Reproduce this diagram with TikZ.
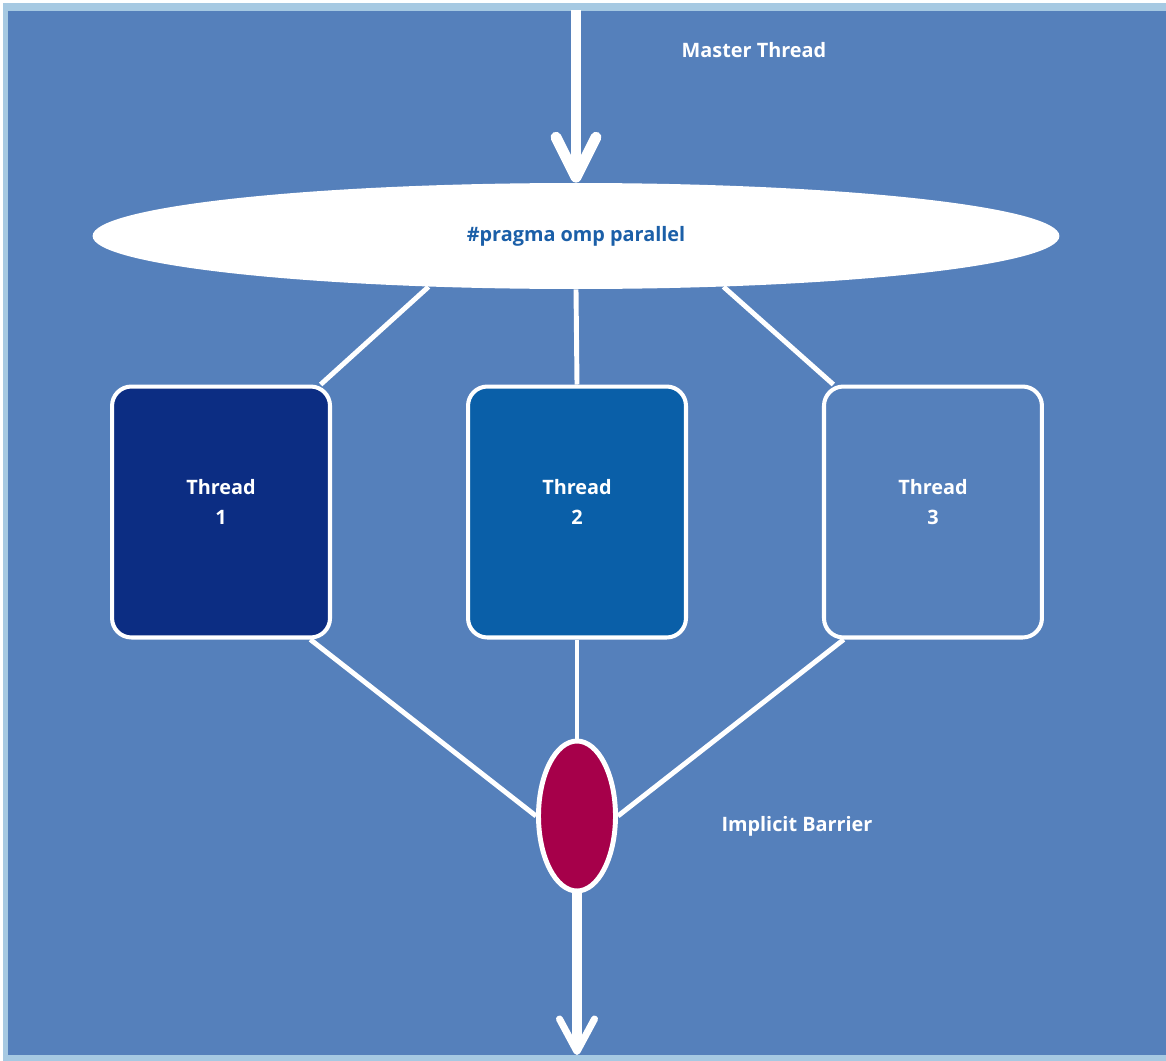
\documentclass[tikz,border=0pt]{standalone}
\usepackage{fontspec}
\setmainfont{Open Sans}
\usetikzlibrary{arrows.meta, positioning, shapes.geometric}
\definecolor{framebd}{HTML}{A6C9E2}
\definecolor{panebg}{HTML}{5580BB}
\definecolor{threadone}{HTML}{0C2D83}
\definecolor{threadtwo}{HTML}{0A5FA8}
\definecolor{barrierred}{HTML}{A6004A}
\definecolor{pragmaink}{HTML}{1B5FA8}
\newcommand{\labelfont}{\fontsize{11.3}{17}\selectfont\bfseries}
\tikzset{
  tbox/.style={draw=white, rounded corners=11pt, line width=2.3pt,
    minimum width=4.36cm, minimum height=5.02cm,
    label={[lbl, align=center, yshift=0.2cm]center:Thread\\#1}},
  link/.style={draw=white, line width=2.8pt},
  flowarrow/.style={-{Straight Barb[length=0.8cm, width=0.8cm, round]}, draw=white, line width=6.2pt},
  outarrow/.style={-{Straight Barb[length=0.65cm, width=0.7cm, round, line width=4pt]}, draw=white, line width=5.8pt},
  lbl/.style={text=white, font=\labelfont}
}
\begin{document}
\begin{tikzpicture}[x=0.02cm, y=-0.02cm]
\useasboundingbox (0,0) rectangle (1166,1061);
\fill[framebd] (3,3) rectangle (1170,1061);
\fill[panebg] (8,11) rectangle (1170,1055);
\node[ellipse, fill=white, minimum width=19.34cm, minimum height=2.12cm, inner sep=0pt,
  text=pragmaink, font=\labelfont] (omp) at (576,236) {\#pragma omp parallel};
\node[tbox=2, fill=threadtwo] (t2) at (577,512) {};
\node[tbox=1, fill=threadone, left=2.68cm of t2] (t1) {};
\node[tbox=3, fill=panebg, right=2.68cm of t2] (t3) {};
\node[ellipse, draw=white, fill=barrierred, line width=2.8pt, minimum width=1.54cm,
  minimum height=3cm, inner sep=0pt] (bar) at (577,816) {};
\coordinate (mtop) at (576,10);
\coordinate (mend) at (577,1055);
\draw[flowarrow] (mtop) -- (omp.north);
\draw[outarrow] (bar.south) -- (mend);
\draw[link] (omp.-161) -- (t1.52);
\draw[link] (omp.south) -- (t2.north);
\draw[link] (omp.-19) -- (t3.128);
\draw[link] (t1.-55) -- (bar.west);
\draw[link] (t2.south) -- (bar.north);
\draw[link] (t3.-125) -- (bar.east);
\node[lbl] (mlbl) at (754,50) {Master Thread};
\node[lbl] (blbl) at (797,826) {Implicit Barrier};
\end{tikzpicture}
\end{document}
